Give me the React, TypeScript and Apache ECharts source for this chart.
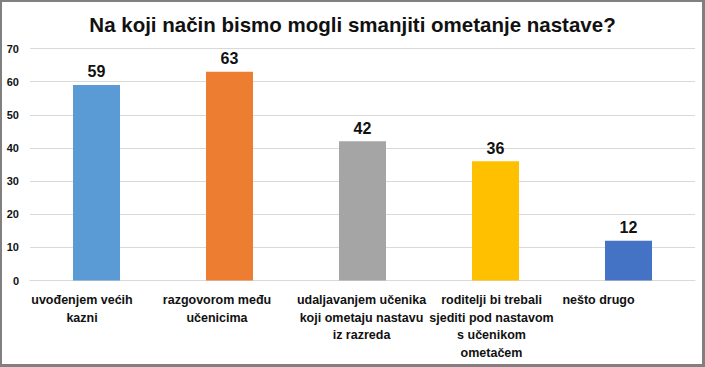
import React, { useEffect, useRef } from "react";
import * as echarts from "echarts";

const categories = [
  "uvođenjem većih\nkazni",
  "razgovorom među\nučenicima",
  "udaljavanjem učenika\nkoji ometaju nastavu\niz razreda",
  "roditelji bi trebali\nsjediti pod nastavom\ns učenikom\nometačem",
  "nešto drugo",
];
const values = [59, 63, 42, 36, 12];
const colors = ["#5B9BD5", "#ED7D31", "#A5A5A5", "#FFC000", "#4472C4"];
const yTicks = { min: 0, max: 70, interval: 10 };
const titleText = "Na koji način bismo mogli smanjiti ometanje nastave?";

const FONT = "'Liberation Sans', Arial, sans-serif";
const labelShift = [29, 25, 2, 8, 60];

export default function App() {
  const ref = useRef<HTMLDivElement>(null);
  useEffect(() => {
    document.body.style.margin = "0";
    const chart = echarts.init(ref.current!, null, { renderer: "svg" });
    const border = "#808080";
    const rich: Record<string, any> = {};
    labelShift.forEach((p, i) => {
      rich["p" + i] = {
        fontFamily: FONT,
        fontSize: 12.5,
        fontWeight: "bold",
        color: "#111",
        lineHeight: 17.5,
        padding: [0, p, 0, 0],
      };
    });
    chart.setOption({
      animation: false,
      backgroundColor: "#fff",
      textStyle: { fontFamily: FONT },
      title: {
        text: titleText,
        left: "center",
        top: 9,
        textStyle: { fontFamily: FONT, fontSize: 20.5, fontWeight: "bold", color: "#111" },
      },
      grid: { left: 30, right: 10, top: 48.5, bottom: 86.5, containLabel: false },
      xAxis: {
        type: "category",
        data: categories,
        axisLine: { show: true, lineStyle: { color: "#d9d9d9", width: 1 } },
        axisTick: { show: false },
        axisLabel: {
          interval: 0,
          margin: 11,
          fontFamily: FONT,
          fontSize: 12.5,
          fontWeight: "bold",
          color: "#111",
          lineHeight: 17.5,
          formatter: (v: string, idx: number) =>
            v
              .split("\n")
              .map((l) => "{p" + idx + "|" + l + "}")
              .join("\n"),
          rich,
        },
      },
      yAxis: {
        type: "value",
        min: yTicks.min,
        max: yTicks.max,
        interval: yTicks.interval,
        axisLine: { show: false },
        axisTick: { show: false },
        axisLabel: { margin: 11, fontFamily: FONT, fontSize: 11, fontWeight: "bold", color: "#111" },
        splitLine: { lineStyle: { color: "#d9d9d9", width: 1 } },
      },
      series: [
        {
          type: "bar",
          barWidth: 47,
          data: values.map((v, i) => ({ value: v, itemStyle: { color: colors[i] } })),
          label: {
            show: true,
            position: "top",
            distance: 5,
            fontFamily: FONT,
            fontSize: 16,
            fontWeight: "bold",
            color: "#111",
          },
        },
      ],
      graphic: [
        { type: "rect", shape: { x: 0, y: 0, width: 705, height: 2 }, style: { fill: border } },
        { type: "rect", shape: { x: 0, y: 0, width: 2, height: 367 }, style: { fill: border } },
        { type: "rect", shape: { x: 702, y: 0, width: 3, height: 367 }, style: { fill: border } },
        { type: "rect", shape: { x: 0, y: 364, width: 705, height: 3 }, style: { fill: border } },
      ],
    });
    return () => chart.dispose();
  }, []);
  return <div ref={ref} style={{ width: 705, height: 367 }} />;
}
